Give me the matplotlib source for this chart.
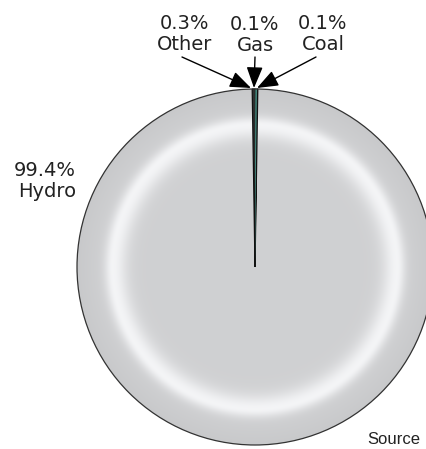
import numpy as np
import matplotlib.pyplot as plt

# electricity generation mix
sources = ['Other', 'Gas', 'Coal', 'Hydro']
shares = [0.3, 0.1, 0.1, 99.4]
colors = ['#303030', '#5cc0b0', '#1a1a1a', '#d0d1d3']
pct_labels = ['0.3%', '0.1%', '0.1%', '99.4%']

W, H = 427, 449
fig = plt.figure(figsize=(W / 100, H / 100), dpi=100)
ax = fig.add_axes([0, 0, 1, 1])

cx, cy, R = 255, H - 267, 178

# keep the small slices centred on 12 o'clock
small = sum(shares[:3]) / sum(shares) * 360
wedges, _ = ax.pie(shares, colors=colors, startangle=90 + small / 2,
                   counterclock=False, center=(cx, cy), radius=R,
                   wedgeprops=dict(linewidth=0), frame=True)
for w in (wedges[0], wedges[2]):
    w.set_edgecolor('#111111')
    w.set_linewidth(0.9)
    w.set_zorder(4)
wedges[1].set_zorder(4.5)
ax.set_xlim(0, W)
ax.set_ylim(0, H)
ax.set_aspect('equal')
ax.axis('off')

# radial shading on the big slice: grey body with a soft bright ring
n = 600
g = np.linspace(-1, 1, n)
xx, yy = np.meshgrid(g, g)
rr = np.hypot(xx, yy)
ring = np.where(rr < 0.8, np.exp(-((rr - 0.8) / 0.08) ** 2),
                np.exp(-((rr - 0.8) / 0.045) ** 2))
base = 0.815 - 0.03 * np.clip((rr - 0.85) / 0.15, 0, 1)
lum = base + (0.955 - base) * ring
img = np.clip(np.dstack([lum, lum + 0.003, lum + 0.01]), 0, 1)
im = ax.imshow(img, extent=(cx - R, cx + R, cy - R, cy + R), origin='lower',
               zorder=3, interpolation='bilinear')
im.set_clip_path(wedges[3])

# outline
ax.add_patch(plt.Circle((cx, cy), R, fill=False, edgecolor='#333333',
                        linewidth=0.9, zorder=5))

font = dict(family=['DejaVu Sans'], fontsize=14, color='#222222',
            linespacing=1.1)

top = H - 88
# label centre, arrow tail and arrow tip for each small slice
labels = {
    'Other': ((185, H - 34), (182, H - 57), (251, top)),
    'Gas': ((255, H - 35), (255, H - 57), (254, top)),
    'Coal': ((323, H - 34), (316, H - 57), (257, top)),
}
for i, name in enumerate(sources[:3]):
    (tx, ty), tail, tip = labels[name]
    ax.text(tx, ty, f'{pct_labels[i]}\n{name}', ha='center', va='center', **font)
    ax.annotate('', xy=tip, xytext=tail, zorder=6,
                arrowprops=dict(arrowstyle='-|>,head_length=1.3,head_width=0.5',
                                color='black', lw=1.0, shrinkA=0, shrinkB=0))

ax.text(76, H - 181, f'{pct_labels[3]}\n{sources[3]}', ha='right', va='center',
        **font)

ax.text(367, H - 447, 'Source', ha='left', va='bottom', fontsize=12,
        family='Liberation Sans', color='#222222')

fig.savefig('out.png', dpi=100)
